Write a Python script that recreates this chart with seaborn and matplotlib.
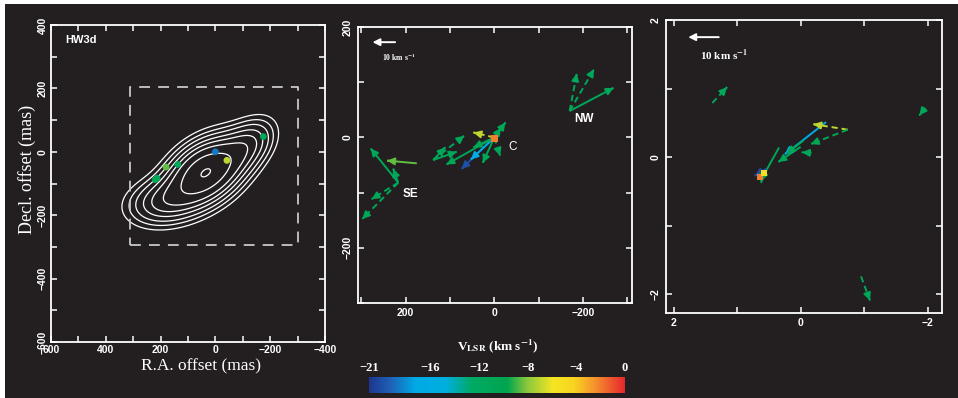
import numpy as np
import pandas as pd
import matplotlib
matplotlib.use("Agg")
import matplotlib.pyplot as plt
import seaborn as sns
from matplotlib.colors import LinearSegmentedColormap
from matplotlib.ticker import MultipleLocator
from matplotlib.patches import Rectangle
from matplotlib.font_manager import FontProperties

BG = "#231f20"
FG = "white"

sns.set_theme(style="dark")
plt.rcParams["font.family"] = ["Liberation Sans", "DejaVu Sans"]
plt.rcParams["mathtext.fontset"] = "stix"
plt.rcParams["mathtext.default"] = "bf"
plt.rcParams["axes.unicode_minus"] = True

# ---------------- velocity colour scale ----------------
VMIN, VMAX = -21, 0
cbar_ticks = [-21, -16, -12, -8, -4, 0]
cmap = LinearSegmentedColormap.from_list("vlsr", [
    (0.00, "#1e3791"), (0.08, "#1f5fb4"), (0.18, "#00aae6"), (0.30, "#00afe0"),
    (0.40, "#00aa64"), (0.54, "#00a550"), (0.62, "#8cc83c"), (0.72, "#f5e623"),
    (0.80, "#f8d520"), (0.88, "#f5962d"), (1.00, "#e6282d")])


def vcol(v):
    return cmap((v - VMIN) / (VMAX - VMIN))


# ---------------- continuum source model (HW3d) ----------------
comp_ra = [35, 200, -125]
comp_dec = [-65, -160, 25]
comp_amp = [1.0, 0.32, 0.30]
comp_smaj = [95, 85, 70]
comp_smin = [58, 48, 45]
comp_pa = [27, 8, 35]
cont_levels = [0.08, 0.13, 0.19, 0.27, 0.36, 0.48, 0.70, 0.985]

# maser spot positions (mas) and velocities (km/s)
spot_ra = [-175, 0, -42, 180, 137, 213, 220]
spot_dec = [48, 0, -27, -48, -40, -83, -88]
spot_vel = [-11, -18.5, -7, -8.5, -11, -11, -11]

# zoom box drawn on the map (mas)
box_ra = [310, -300]
box_dec = [-295, 205]

# ---------------- proper motions, middle panel (mas) ----------------
mid_x0 = [0, 0, 0, 0, 0, 0, 0, 0, 0, 138, 138, 138, 175, 217, 217, 217, 217, -170, -170, -170]
mid_y0 = [0, 0, 0, 0, 0, 0, 0, 0, 0, -41, -41, -41, -47, -82, -82, -82, -82, 48, 48, 48]
mid_x1 = [-25, -15, 47, -13, 26, 74, 53, 108, 47, 68, 111, 85, 242, 279, 228, 277, 298, -186, -225, -269]
mid_y1 = [27, 17, 9, -33, -46, -57, -40, -49, -18, 3, -18, -26, -42, -20, -57, -112, -148, 116, 124, 90]
mid_vel = [-11, -11, -7, -11, -11, -20, -16, -10.5, -11, -11, -11, -11, -8.5, -11, -11, -11, -11, -11, -11, -11]
mid_kind = ["solid", "solid", "dashed", "dashed", "solid", "solid", "solid", "solid", "solid",
            "dashed", "solid", "solid", "solid", "solid", "solid", "dashed", "dashed",
            "dashed", "dashed", "solid"]
mid_ref_x = [0]
mid_ref_y = [-2]
mid_ref_vel = [-2]
mid_names = ["SE", "NW", "C"]
mid_name_x = [189, -203, -42]
mid_name_y = [-103, 33, -18]

# ---------------- proper motions, right panel ----------------
rt_x0 = [1.39, -1.96, -0.95, -0.40, -0.74, -0.74, -0.17, -0.04, 0.00, 0.34, 0.54, 0.60]
rt_y0 = [0.79, 0.72, -1.74, 0.51, 0.40, 0.40, 0.06, 0.24, 0.15, 0.14, -0.17, -0.27]
rt_x1 = [1.16, -1.87, -1.09, 0.25, -0.20, -0.16, -0.02, 0.22, 0.35, 0.63, 0.72, 0.62]
rt_y1 = [1.02, 0.61, -2.09, 0.04, 0.48, 0.19, 0.07, 0.05, -0.07, -0.34, -0.27, -0.37]
rt_vel = [-11, -11, -11, -16, -7, -10, -11, -11, -11, -11, -20, -11]
rt_kind = ["dashed", "dashed", "dashed", "solid", "dashed", "dashed", "dashed",
           "solid", "solid", "solid", "solid", "dashed"]
rt_ref_x = [0.64, 0.58]
rt_ref_y = [-0.29, -0.23]
rt_ref_vel = [-2, -5]

# ---------------- figure ----------------
fig = plt.figure(figsize=(9.58, 3.98), dpi=100)
fig.patch.set_facecolor("white")
fig.add_artist(Rectangle((5 / 958, 0), 1, (398 - 4) / 398, transform=fig.transFigure,
                         facecolor=BG, edgecolor="none", zorder=0))

tick_font = dict(family=["Liberation Sans", "DejaVu Sans"], weight="bold", size=7.5)


def style_axes(ax, xlim, ylim, minor, major, pad):
    ax.set_facecolor(BG)
    ax.set_xlim(*xlim)
    ax.set_ylim(*ylim)
    ax.grid(False)
    for s in ax.spines.values():
        s.set_visible(True)
        s.set_color(FG)
        s.set_linewidth(1.3)
    for axis in (ax.xaxis, ax.yaxis):
        axis.set_major_locator(MultipleLocator(major))
        axis.set_minor_locator(MultipleLocator(minor))
    ax.tick_params(which="both", direction="in", top=True, right=True, bottom=True, left=True,
                   color=FG, length=4, width=1.1, labelcolor=FG, pad=pad)
    ax.set_xlabel("")
    ax.set_ylabel("")
    fig.canvas.draw()
    for lab in ax.get_xticklabels():
        lab.set_fontproperties(FontProperties(**tick_font))
    for lab in ax.get_yticklabels():
        lab.set_fontproperties(FontProperties(**tick_font))
        lab.set_rotation(90)
        lab.set_va("center")


def draw_vectors(ax, x0, y0, x1, y1, vel, kind, lw=1.4):
    for a, b, c, d, v, k in zip(x0, y0, x1, y1, vel, kind):
        col = vcol(v)
        ls = (0, (3.2, 2.0)) if k == "dashed" else "-"
        ax.plot([a, c], [b, d], color=col, lw=lw, ls=ls, solid_capstyle="butt", zorder=3)
        ax.annotate("", xy=(c, d), xytext=(a + 0.97 * (c - a), b + 0.97 * (d - b)),
                    arrowprops=dict(arrowstyle="-|>,head_length=0.7,head_width=0.35",
                                    color=col, lw=lw, shrinkA=0, shrinkB=0,
                                    mutation_scale=6), zorder=4)


# ---- left panel: continuum contours with maser spots ----
ax1 = fig.add_axes([51 / 958, (398 - 342) / 398, 274 / 958, 317 / 398])
ra = np.linspace(-400, 600, 500)
dec = np.linspace(-600, 400, 500)
RA, DEC = np.meshgrid(ra, dec)
field = np.zeros_like(RA)
for r0, d0, amp, smaj, smin, pa in zip(comp_ra, comp_dec, comp_amp, comp_smaj, comp_smin, comp_pa):
    t = np.deg2rad(pa)
    dx, dy = RA - r0, DEC - d0
    a = -dx * np.cos(t) + dy * np.sin(t)
    b = dx * np.sin(t) + dy * np.cos(t)
    field += amp * np.exp(-0.5 * (a ** 2 / smaj ** 2 + b ** 2 / smin ** 2))
field /= field.max()
ax1.contour(RA, DEC, field, levels=cont_levels, colors=FG, linewidths=0.9, zorder=2)
ax1.plot([box_ra[0], box_ra[1], box_ra[1], box_ra[0], box_ra[0]],
         [box_dec[0], box_dec[0], box_dec[1], box_dec[1], box_dec[0]],
         color="#c8c8c8", lw=1.3, ls=(0, (6, 4.5)), zorder=2)
spots = pd.DataFrame({"ra": spot_ra, "dec": spot_dec, "vel": spot_vel})
sns.scatterplot(data=spots, x="ra", y="dec", hue="vel", palette=cmap, hue_norm=(VMIN, VMAX),
                s=24, edgecolor="none", legend=False, ax=ax1, zorder=5)
style_axes(ax1, (600, -400), (-600, 400), 100, 200, 2.5)
ax1.text(0.051, 0.953, "HW3d", transform=ax1.transAxes, color=FG, fontsize=8,
         fontweight="bold", ha="left", va="center")
ax1.text(0.547, -0.077, "R.A. offset (mas)", transform=ax1.transAxes, color=FG,
         family="Liberation Serif", fontsize=12.5, ha="center", va="center")
ax1.text(-0.089, 0.543, "Decl. offset (mas)", transform=ax1.transAxes, color=FG,
         family="Liberation Serif", fontsize=13, ha="center", va="center", rotation=90)

# ---- middle panel: proper motions over the boxed region ----
ax2 = fig.add_axes([358.3 / 958, (398 - 302.7) / 398, 273.4 / 958, 275.4 / 398])
draw_vectors(ax2, mid_x0, mid_y0, mid_x1, mid_y1, mid_vel, mid_kind)
ref2 = pd.DataFrame({"x": mid_ref_x, "y": mid_ref_y, "vel": mid_ref_vel})
sns.scatterplot(data=ref2, x="x", y="y", hue="vel", palette=cmap, hue_norm=(VMIN, VMAX),
                marker="s", s=22, edgecolor="none", legend=False, ax=ax2, zorder=6)
for name, x, y in zip(mid_names, mid_name_x, mid_name_y):
    ax2.text(x, y, name, color=FG, fontsize=8.5, fontweight="bold" if name != "C" else "normal",
             ha="center", va="center")
ax2.annotate("", xy=(275, 173), xytext=(224, 173),
             arrowprops=dict(arrowstyle="-|>,head_length=0.7,head_width=0.35", color=FG,
                             lw=1.4, shrinkA=0, shrinkB=0, mutation_scale=6))
ax2.text(215, 145, r"10 km s$^{-1}$", color=FG, fontsize=5.5, family="Liberation Serif",
         fontweight="bold", ha="center", va="center")
style_axes(ax2, (307, -310), (-300, 200), 100, 200, 4)

# ---- right panel: central cluster ----
ax3 = fig.add_axes([666 / 958, (398 - 312.7) / 398, 275.7 / 958, 292.7 / 398])
draw_vectors(ax3, rt_x0, rt_y0, rt_x1, rt_y1, rt_vel, rt_kind)
ref3 = pd.DataFrame({"x": rt_ref_x, "y": rt_ref_y, "vel": rt_ref_vel})
sns.scatterplot(data=ref3, x="x", y="y", hue="vel", palette=cmap, hue_norm=(VMIN, VMAX),
                marker="s", s=16, edgecolor="none", legend=False, ax=ax3, zorder=6)
ax3.annotate("", xy=(1.77, 1.75), xytext=(1.29, 1.75),
             arrowprops=dict(arrowstyle="-|>,head_length=0.7,head_width=0.35", color=FG,
                             lw=1.4, shrinkA=0, shrinkB=0, mutation_scale=6))
ax3.text(1.2, 1.48, r"10 km s$^{-1}$", color=FG, fontsize=8, family="Liberation Serif",
         fontweight="bold", ha="center", va="center")
style_axes(ax3, (2.12, -2.22), (-2.27, 2.0), 1, 2, 4)

# ---- colour bar ----
axc = fig.add_axes([369.3 / 958, (398 - 393.3) / 398, 255.7 / 958, 16.6 / 398])
grad = np.linspace(VMIN, VMAX, 256)[None, :]
axc.imshow(grad, aspect="auto", cmap=cmap, vmin=VMIN, vmax=VMAX,
           extent=[VMIN, VMAX, 0, 1])
axc.set_xlim(VMIN, VMAX)
axc.set_yticks([])
axc.set_xticks(cbar_ticks)
axc.set_xticklabels([f"{t}".replace("-", "\u2212") for t in cbar_ticks],
                    family="Liberation Serif", fontweight="bold", fontsize=9, color=FG)
axc.xaxis.tick_top()
axc.tick_params(axis="x", length=0, pad=2)
for s in axc.spines.values():
    s.set_visible(False)
axc.text(0.5, 2.85, r"V$_{LSR}$ (km s$^{-1}$)", transform=axc.transAxes, color=FG,
         family="Liberation Serif", fontweight="bold", fontsize=9.5, ha="center", va="center")

fig.savefig("out.png", dpi=100, facecolor=fig.get_facecolor())
